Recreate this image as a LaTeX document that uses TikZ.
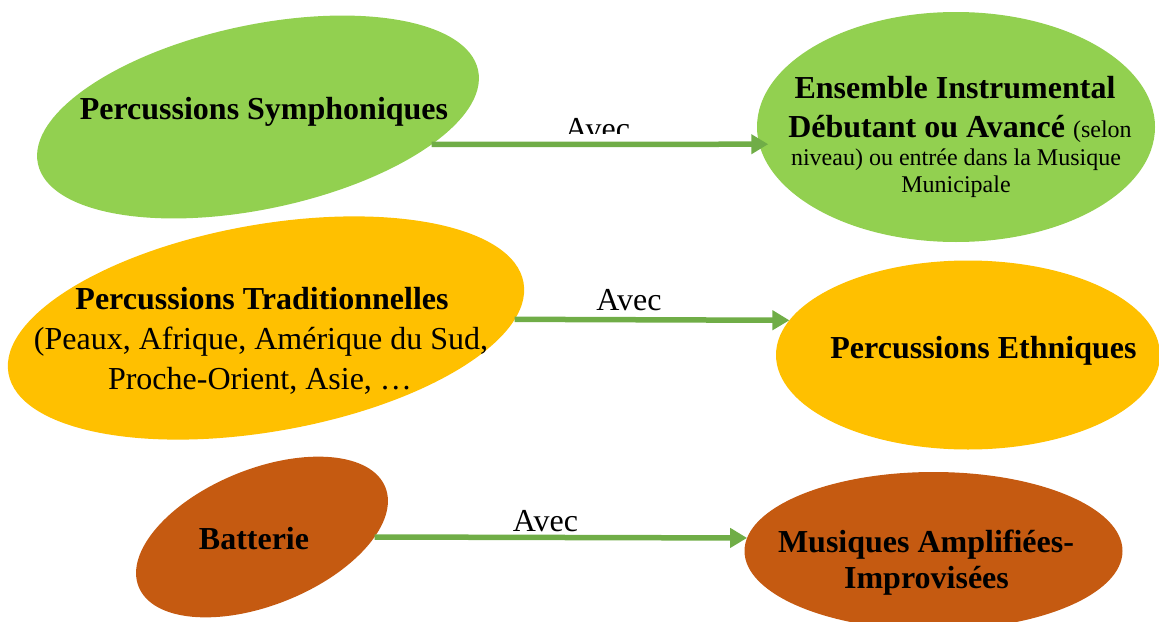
\documentclass[tikz,border=0pt]{standalone}
\usepackage{fontspec}
\setmainfont{Liberation Serif}
\usetikzlibrary{arrows.meta,shapes.geometric}
\definecolor{lgreen}{HTML}{92D050}
\definecolor{gold}{HTML}{FFC000}
\definecolor{rust}{HTML}{C55A11}
\definecolor{arrgreen}{HTML}{70AD47}
\tikzset{
  blob/.style={shape=ellipse, draw=none, inner sep=0pt, outer sep=0pt},
  boldtxt/.style={anchor=base, inner sep=0pt, font=\fontsize{32}{40}\selectfont\bfseries},
  regtxt/.style={anchor=base, inner sep=0pt, font=\fontsize{32}{40}\selectfont},
  smalltxt/.style={anchor=base, inner sep=0pt, font=\fontsize{24}{28}\selectfont},
  arr/.style={draw=arrgreen, line width=5.5pt, -{Triangle[length=17pt,width=19pt]}}
}
\begin{document}
\begin{tikzpicture}[x=1pt,y=-1pt]
\useasboundingbox (0,0) rectangle (1159,621);
% ellipses
\node[blob, fill=lgreen, minimum width=450pt, minimum height=184pt, rotate=12] (e1) at (258,117) {};
\node[blob, fill=lgreen, minimum width=398pt, minimum height=230pt] (e2) at (956,127) {};
\node[blob, fill=gold, minimum width=523pt, minimum height=207pt, rotate=10] (e3) at (266,328) {};
\node[blob, fill=gold, minimum width=384pt, minimum height=189pt] (e4) at (968,355) {};
\node[blob, fill=rust, minimum width=266pt, minimum height=136pt, rotate=22] (e5) at (262,537) {};
\node[blob, fill=rust, minimum width=378pt, minimum height=158pt] (e6) at (933.5,551) {};
% arrows
\draw[arr, shorten >=-9pt] (e1.-21) -- (e2.185);
\draw[arr] (e3.-8.5) -- (e4.169);
\draw[arr] (e5.-22) -- (e6.176);
% labels
\begin{scope}
  \clip (540,100) rectangle (660,133);
  \node[regtxt] (l1) at (597.5,139) {Avec};
\end{scope}
\node[regtxt] (l2) at (629,310) {Avec};
\node[regtxt] (l3) at (545.5,531) {Avec};
% texts
\node[boldtxt] (t1) at (264,119) {Percussions Symphoniques};
\node[boldtxt] (t2a) at (955,98) {Ensemble Instrumental};
\node[boldtxt] (t2b) at (960,137) {Débutant ou Avancé {\mdseries\fontsize{24}{28}\selectfont (selon}};
\node[smalltxt] (t2c) at (956,165) {niveau) ou entrée dans la Musique};
\node[smalltxt] (t2d) at (956,192) {Municipale};
\node[boldtxt] (t3a) at (262,309) {Percussions Traditionnelles};
\node[regtxt] (t3b) at (261,349) {(Peaux, Afrique, Amérique du Sud,};
\node[regtxt] (t3c) at (260,389) {Proche-Orient, Asie, …};
\node[boldtxt] (t4) at (983.5,358) {Percussions Ethniques};
\node[boldtxt] (t5) at (254,549) {Batterie};
\node[boldtxt] (t6a) at (926,552) {Musiques Amplifiées-};
\node[boldtxt] (t6b) at (926.5,588) {Improvisées};
\end{tikzpicture}
\end{document}
